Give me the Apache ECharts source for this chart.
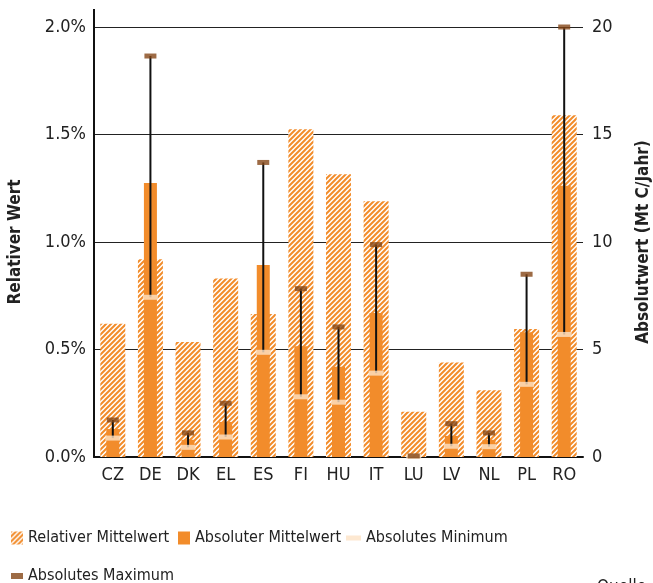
<!DOCTYPE html>
<html>
<head>
<meta charset="utf-8">
<script src="https://cdn.jsdelivr.net/npm/echarts@6/dist/echarts.min.js"></script>
<style>
  html, body { margin: 0; padding: 0; background: #fff; }
  #main { width: 653px; height: 583px; }
</style>
</head>
<body>
<div id="main"></div>
<script>
// Länder
var laender = ['CZ', 'DE', 'DK', 'EL', 'ES', 'FI', 'HU', 'IT', 'LU', 'LV', 'NL', 'PL', 'RO'];
// relativer Mittelwert (%)
var relMittel = [0.62, 0.92, 0.535, 0.83, 0.665, 1.525, 1.315, 1.19, 0.21, 0.44, 0.31, 0.595, 1.59];
// absolute Werte (Mt C/Jahr)
var absMittel = [1.3, 12.75, 0.8, 1.63, 8.93, 5.15, 4.2, 6.7, 0.02, 0.98, 0.8, 5.8, 12.62];
var absMin = [0.88, 7.43, 0.45, 0.93, 4.87, 2.8, 2.55, 3.9, 0.03, 0.5, 0.48, 3.38, 5.7];
var absMax = [1.72, 18.65, 1.12, 2.5, 13.7, 7.83, 6.05, 9.88, 0.05, 1.55, 1.12, 8.5, 20.0];
// Achsenbeschriftung
var relTicks = [0, 0.5, 1.0, 1.5, 2.0];
var absTicks = [0, 5, 10, 15, 20];

var orange = '#f28c2b';
var peach = '#fde2c6';
var braun = '#854616';
var schrift = "'Liberation Sans Narrow', 'DejaVu Sans Condensed', sans-serif";

// Schraffur
var muster = document.createElement('canvas');
muster.width = 5; muster.height = 5;
var ctx = muster.getContext('2d');
ctx.fillStyle = '#fff';
ctx.fillRect(0, 0, 5, 5);
ctx.strokeStyle = orange;
ctx.lineWidth = 2;
ctx.beginPath();
ctx.moveTo(-1, 6); ctx.lineTo(6, -1);
ctx.moveTo(-1, 1); ctx.lineTo(1, -1);
ctx.moveTo(4, 6); ctx.lineTo(6, 4);
ctx.stroke();

var fehler = laender.map(function (l, i) { return [i, absMin[i], absMax[i]]; });

var legendeText = { fontSize: 16, color: '#222', fontFamily: schrift };

var myChart = echarts.init(document.getElementById('main'));

var option = {
    animation: false,
    textStyle: { fontFamily: schrift },
    grid: { left: 94, right: 70, top: 27, bottom: 126, outerBoundsMode: 'none', containLabel: false },
    legend: [
        {
            left: 6, top: 525, itemWidth: 12, itemHeight: 13, itemGap: 8,
            textStyle: legendeText,
            data: [{ name: 'Relativer Mittelwert', icon: 'rect' }]
        },
        {
            left: 173, top: 525, itemWidth: 12, itemHeight: 13,
            textStyle: legendeText,
            data: [{ name: 'Absoluter Mittelwert', icon: 'rect' }]
        },
        {
            left: 341, top: 525, itemWidth: 15, itemHeight: 5,
            textStyle: legendeText,
            data: [{ name: 'Absolutes Minimum', icon: 'rect' }]
        },
        {
            left: 6, top: 563, itemWidth: 12, itemHeight: 6,
            textStyle: legendeText,
            data: [{ name: 'Absolutes Maximum', icon: 'rect' }]
        }
    ],
    xAxis: [
        {
            type: 'category',
            data: laender,
            axisLine: { lineStyle: { color: '#111', width: 2 } },
            axisTick: { show: false },
            axisLabel: { fontSize: 18, color: '#222', margin: 9 }
        },
        { type: 'category', data: laender, show: false }
    ],
    yAxis: [
        {
            type: 'value', min: 0, max: 2, interval: 0.5,
            name: 'Relativer Wert', nameLocation: 'middle', nameRotate: 90, nameGap: 70,
            nameTextStyle: { fontSize: 17, fontWeight: 'bold', color: '#222' },
            axisLine: { show: true, lineStyle: { color: '#111', width: 2 } },
            axisTick: { show: false },
            axisLabel: {
                fontSize: 18, color: '#222', margin: 8,
                formatter: function (v) { return relTicks.indexOf(v) >= 0 ? v.toFixed(1) + '%' : ''; }
            },
            splitLine: { lineStyle: { color: '#222', width: 1.2 } }
        },
        {
            type: 'value', min: 0, max: 20, interval: 5,
            name: 'Absolutwert (Mt C/Jahr)', nameLocation: 'middle', nameRotate: 90, nameGap: 52,
            nameTextStyle: { fontSize: 17, fontWeight: 'bold', color: '#222' },
            axisLine: { show: false },
            axisTick: { show: false },
            axisLabel: {
                fontSize: 18, color: '#222', margin: 9,
                formatter: function (v) { return absTicks.indexOf(v) >= 0 ? String(v) : ''; }
            },
            splitLine: { show: false }
        }
    ],
    graphic: [
        { type: 'line', shape: { x1: 94, y1: 9, x2: 94, y2: 27 }, style: { stroke: '#111', lineWidth: 2 } },
        { type: 'text', left: 597, top: 579, style: { text: 'Quelle', fontSize: 17, fill: '#222', fontFamily: schrift } }
    ],
    series: [
        {
            name: 'Relativer Mittelwert',
            type: 'bar', xAxisIndex: 0, yAxisIndex: 0, barWidth: 25, z: 2,
            itemStyle: { color: { image: muster, repeat: 'repeat' } },
            data: relMittel
        },
        {
            name: 'Absoluter Mittelwert',
            type: 'bar', xAxisIndex: 1, yAxisIndex: 1, barWidth: 13, z: 3,
            itemStyle: { color: orange },
            data: absMittel
        },
        {
            name: 'Spanne',
            type: 'custom', xAxisIndex: 0, yAxisIndex: 1, z: 4,
            encode: { x: 0, y: [1, 2] },
            renderItem: function (params, api) {
                var a = api.coord([api.value(0), api.value(1)]);
                var b = api.coord([api.value(0), api.value(2)]);
                return {
                    type: 'line',
                    shape: { x1: a[0], y1: a[1], x2: b[0], y2: b[1] },
                    style: { stroke: '#111', lineWidth: 2 }
                };
            },
            data: fehler
        },
        {
            name: 'Absolutes Minimum',
            type: 'scatter', xAxisIndex: 0, yAxisIndex: 1, z: 5,
            symbol: 'rect', symbolSize: [15, 5],
            itemStyle: { color: peach },
            data: absMin
        },
        {
            name: 'Absolutes Maximum',
            type: 'scatter', xAxisIndex: 0, yAxisIndex: 1, z: 6,
            symbol: 'rect', symbolSize: [12, 5],
            itemStyle: { color: braun },
            data: absMax
        }
    ]
};

myChart.setOption(option);
</script>
</body>
</html>
